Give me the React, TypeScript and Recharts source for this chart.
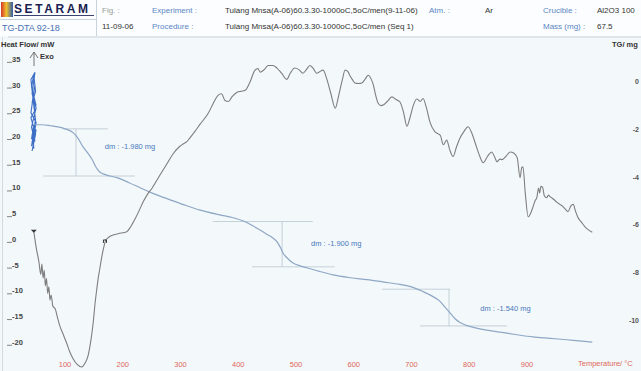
import {
  ComposedChart,
  Line,
  XAxis,
  YAxis,
  ReferenceLine,
  ReferenceDot,
} from "recharts";

const FONT = "'Liberation Sans', Arial, sans-serif";

// temperature ticks (°C)
const TEMP_TICKS = [100, 200, 300, 400, 500, 600, 700, 800, 900];
// heat flow ticks (mW)
const HF_TICKS = [35, 30, 25, 20, 15, 10, 5, 0, -5, -10, -15, -20];
// mass ticks (mg)
const TG_TICKS = [0, -2, -4, -6, -8, -10];

// DTA heat flow curve
const DTA_TEMP = [
  46, 50, 55, 58, 60, 62, 64, 66, 68, 70, 72, 74, 76, 79, 83, 87, 91, 97, 103,
  108, 114, 121, 129, 135, 140, 145, 149, 152, 155, 158, 161, 164, 167, 170,
  178, 192, 207, 214, 221, 228, 235, 243, 251, 258, 265, 276, 287, 298, 305,
  311, 316, 325, 334, 348, 357, 365, 371, 377, 383, 389, 398, 405, 412, 420,
  429, 434, 438, 445, 452, 460, 467, 475, 484, 490, 498, 505, 512, 518, 524,
  530, 536, 541, 547, 553, 560, 568, 574, 580, 585, 590, 593, 598, 602, 608,
  614, 620, 625, 630, 634, 638, 642, 647, 651, 658, 666, 673, 680, 686, 692,
  697, 703, 709, 715, 720, 726, 732, 740, 746, 750, 755, 761, 766, 772, 778,
  784, 791, 798, 805, 811, 818, 824, 832, 839, 844, 848, 853, 857, 864, 871,
  877, 883, 888, 891, 893, 897, 902, 906, 910, 914, 917, 920, 922, 924, 927,
  930, 934, 937, 940, 946, 952, 957, 962, 967, 971, 976, 980, 984, 988, 994,
  1000, 1007, 1013,
];
const DTA_HF = [
  1.5, -1.5, -4.5, -6.8, -4.8, -7.5, -6.0, -9.0, -7.6, -10.5, -9.2, -11.8,
  -10.8, -13.0, -13.5, -15.2, -16.8, -18.5, -20.2, -21.8, -23.2, -24.3, -24.8,
  -24.0, -22.6, -19.5, -16.0, -12.5, -9.7, -7.2, -5.2, -3.2, -1.6, -0.3, 0.6,
  1.1, 1.5, 2.5, 3.9, 5.5, 7.2, 8.8, 10.0, 11.3, 12.6, 14.6, 16.6, 18.0, 18.6,
  19.0, 19.7, 21.0, 22.4, 24.5, 26.5, 28.0, 28.3, 27.0, 26.8, 27.7, 28.6, 28.8,
  29.0, 30.5, 32.9, 33.2, 32.5, 33.0, 33.8, 33.8, 33.3, 32.3, 31.1, 32.3, 33.3,
  33.0, 32.3, 33.0, 33.8, 33.2, 32.3, 32.6, 32.9, 31.3, 28.5, 25.5, 28.0, 30.9,
  32.9, 32.6, 31.9, 31.0, 30.4, 30.3, 30.4, 31.2, 31.9, 31.2, 30.0, 28.0, 26.5,
  26.0, 26.1, 26.8, 27.7, 27.2, 26.7, 24.8, 22.0, 23.5, 26.0, 27.3, 26.8, 27.4,
  25.5, 22.8, 21.0, 20.5, 20.2, 18.4, 19.3, 17.5, 16.1, 18.0, 19.7, 21.0, 21.9,
  20.5, 18.5, 16.2, 14.9, 16.2, 17.0, 16.0, 15.1, 15.6, 15.5, 16.2, 17.0, 16.8,
  15.9, 12.0, 14.0, 14.1, 9.0, 4.4, 5.0, 6.2, 7.5, 8.1, 10.0, 9.0, 10.3, 10.1,
  8.5, 8.1, 8.6, 8.3, 7.8, 7.2, 6.8, 6.4, 5.8, 5.4, 6.5, 6.8, 5.5, 4.3, 3.4,
  2.5, 1.8, 1.4,
];

// TG mass curve
const TG_TEMP = [
  46, 60, 75, 90, 100, 114, 122, 131, 140, 147, 153, 160, 166, 178, 190, 210,
  230, 252, 280, 311, 334, 368, 391, 410, 426, 440, 450, 460, 467, 473, 478,
  486, 495, 507, 519, 540, 564, 595, 623, 652, 680, 700, 720, 735, 749, 758,
  767, 776, 784, 795, 807, 830, 853, 880, 910, 940, 969, 990, 1013,
];
const TG_MASS = [
  -1.8, -1.8, -1.84, -1.9, -1.97, -2.13, -2.35, -2.72, -3.0, -3.26, -3.55,
  -3.78, -3.86, -3.95, -4.02, -4.22, -4.44, -4.68, -4.93, -5.2, -5.38, -5.58,
  -5.7, -5.85, -6.05, -6.25, -6.4, -6.55, -6.7, -6.95, -7.2, -7.42, -7.6,
  -7.72, -7.8, -7.95, -8.1, -8.22, -8.3, -8.4, -8.5, -8.6, -8.8, -8.98, -9.2,
  -9.45, -9.7, -9.95, -10.1, -10.22, -10.3, -10.42, -10.5, -10.6, -10.7,
  -10.76, -10.82, -10.87, -10.92,
];

// noisy balance signal at the start of the run
const TG_NOISE_TEMP = [
  46, 42, 50, 43, 49, 41, 48, 44, 50, 42, 46, 49, 43, 48, 41, 50, 44, 48, 42,
  49, 45, 41, 48, 43, 50, 42, 48, 44, 46, 43, 49, 45, 47,
];
const TG_NOISE_MASS = [
  -1.8, -2.4, -2.0, -2.9, -2.2, -1.5, -1.2, -0.6, -1.0, -0.2, 0.3, -0.4, -0.9,
  -0.1, -1.3, -1.7, -2.6, -2.1, -2.7, -1.6, -0.8, 0.1, 0.4, -0.5, -1.1, -1.9,
  -2.5, -2.0, -2.8, -2.3, -1.6, -2.1, -1.8,
];

// mass-loss steps
const STEP_DM = [-1.98, -1.9, -1.54];
const STEP_TOP = [-1.97, -5.86, -8.7];
const STEP_TEMP = [119, 476, 765];
const STEP_TOP_FROM = [96, 356, 649];
const STEP_TOP_TO = [174, 529, 767];
const STEP_BOT_FROM = [62, 424, 715];
const STEP_BOT_TO = [221, 567, 865];
const STEP_LABEL_TEMP = [169, 526, 819];
const STEP_LABEL_MASS = [-2.68, -6.78, -9.5];

const dta = DTA_TEMP.map((t, i) => ({ t, hf: DTA_HF[i] }));
const tg = TG_TEMP.map((t, i) => ({ t, m: TG_MASS[i] }));
const tgNoise = TG_NOISE_TEMP.map((t, i) => ({ t, m: TG_NOISE_MASS[i] }));

const fmtDm = (v: number) => `dm : ${v.toFixed(3)} mg`;

const renderTempTick = ({ x, payload }: any) => (
  <text x={x} y={367} textAnchor="middle" fontSize={7.5} fill="#e0685c" fontFamily={FONT}>
    {payload.value}
  </text>
);

const renderHfTick = ({ y, payload }: any) => (
  <g>
    <line x1={7} x2={12} y1={y + 3} y2={y + 3} stroke="#666" strokeWidth={0.8} />
    <text x={12} y={y + 2.5} fontSize={7.5} fontWeight="bold" fill="#444" fontFamily={FONT}>
      {payload.value}
    </text>
  </g>
);

// right-hand labels tucked against the frame edge
const renderTgTick = ({ y, payload }: any) => (
  <text x={639} y={y + 2.5} textAnchor="end" fontSize={7} fontWeight="bold" fill="#555" fontFamily={FONT}>
    {payload.value}
  </text>
);

const DtaDot = (props: any) => {
  const { cx, cy, index } = props;
  if (index === 0)
    return <path key={index} d={`M${cx - 3},${cy - 2}h6l-3,3z`} fill="#333" />;
  if (index === 33)
    return (
      <path key={index} d={`M${cx - 2},${cy + 2}v-3h3v3`} fill="none" stroke="#333" strokeWidth={1} />
    );
  return <g key={index} />;
};

const Header = () => {
  const t = (x: number, y: number, s: string, color = "#333", extra: any = {}) => (
    <span
      style={{
        position: "absolute",
        left: x,
        top: y,
        fontSize: 8,
        color,
        whiteSpace: "nowrap",
        lineHeight: "10px",
        ...extra,
      }}
    >
      {s}
    </span>
  );
  const blue = "#5b86c5";
  return (
    <div
      style={{
        position: "absolute",
        left: 0,
        top: 0,
        width: 641,
        height: 36,
        background: "#fbfdfe",
        fontFamily: FONT,
      }}
    >
      <div
        style={{
          position: "absolute",
          left: 1,
          top: 2,
          width: 12,
          height: 15,
          background: "linear-gradient(90deg, #d4372c 0%, #f1bf2e 45%, #2d5caa 100%)",
        }}
      />
      {t(14, 3, "SETARAM", "#1a2250", { fontSize: 12, fontWeight: 900, letterSpacing: 2.6, lineHeight: "12px" })}
      <div style={{ position: "absolute", left: 14, top: 15, width: 80, height: 1, background: "#3a4470" }} />
      <div style={{ position: "absolute", left: 0, top: 19, width: 96, height: 1, background: "#c9d3dc" }} />
      {t(2, 22, "TG-DTA 92-18", "#4a72b5", { fontSize: 9, lineHeight: "12px" })}
      <div style={{ position: "absolute", left: 96, top: 0, width: 1, height: 36, background: "#c9d3dc" }} />
      {t(102, 6, "Fig. :", "#9a9a9a")}
      {t(102, 22, "11-09-06")}
      {t(152, 6, "Experiment :", blue)}
      {t(152, 22, "Procedure :", blue)}
      {t(225, 6, "Tulang Mnsa(A-06)60.3.30-1000oC,5oC/men(9-11-06)")}
      {t(429, 6, "Atm. :", blue)}
      {t(225, 22, "Tulang Mnsa(A-06)60.3.30-1000oC,5oC/men (Seq  1)")}
      {t(485, 6, "Ar")}
      {t(543, 6, "Crucible :", blue)}
      {t(597, 6, "Al2O3 100")}
      {t(543, 22, "Mass (mg) :", blue)}
      {t(597, 22, "67.5")}
    </div>
  );
};

export default function App() {
  return (
    <div
      style={{
        position: "absolute",
        left: 0,
        top: 0,
        width: 641,
        height: 371,
        overflow: "hidden",
        background: "#f3f8fa",
        fontFamily: FONT,
      }}
    >
      <Header />
      {/* frame edge on the left */}
      <div style={{ position: "absolute", left: 2, top: 37, width: 1, height: 334, background: "#d3dbe0" }} />
      <span style={{ position: "absolute", left: 1, top: 40, fontSize: 7.5, fontWeight: "bold", color: "#333" }}>
        Heat Flow/ mW
      </span>
      <span style={{ position: "absolute", left: 612, top: 40, fontSize: 7.5, fontWeight: "bold", color: "#333", whiteSpace: "nowrap" }}>
        TG/ mg
      </span>
      <span style={{ position: "absolute", left: 40, top: 52, fontSize: 7.5, fontWeight: "bold", color: "#333" }}>
        Exo
      </span>
      <svg style={{ position: "absolute", left: 28, top: 50 }} width={12} height={18}>
        <path d="M6,16V2M2,8L6,2L10,8" fill="none" stroke="#666" strokeWidth={0.9} />
      </svg>
      <span style={{ position: "absolute", left: 578, top: 359, fontSize: 7.5, color: "#e0685c", whiteSpace: "nowrap" }}>
        Temperature/ °C
      </span>
      <div style={{ position: "absolute", left: 0, top: 0 }}>
        <ComposedChart width={700} height={371} margin={{ top: 36, right: 58, bottom: 0, left: 7 }}>
          <XAxis
            xAxisId="t"
            type="number"
            dataKey="t"
            domain={[1.3, 1097.4]}
            allowDataOverflow
            ticks={TEMP_TICKS}
            height={1}
            axisLine={false}
            tickLine={false}
            tick={renderTempTick}
          />
          <XAxis
            xAxisId="top"
            orientation="top"
            type="number"
            dataKey="t"
            domain={[1.3, 1097.4]}
            allowDataOverflow
            ticks={TEMP_TICKS}
            height={1}
            axisLine={{ stroke: "#c9d3dc" }}
            tickLine={{ stroke: "#b8c2cb" }}
            tickSize={4}
            tick={false}
          />
          <YAxis
            yAxisId="hf"
            type="number"
            domain={[-25.39, 39.34]}
            allowDataOverflow
            ticks={HF_TICKS}
            width={1}
            axisLine={false}
            tickLine={false}
            tick={renderHfTick}
          />
          <YAxis
            yAxisId="tg"
            orientation="right"
            type="number"
            domain={[-12.09, 1.883]}
            allowDataOverflow
            ticks={TG_TICKS}
            width={1}
            axisLine={false}
            tickLine={false}
            tick={renderTgTick}
          />
          {STEP_DM.map((dm, i) => {
            const bot = STEP_TOP[i] + dm;
            const stroke = "#b9c6d0";
            return [
              <ReferenceLine
                key={`top${i}`}
                xAxisId="t"
                yAxisId="tg"
                segment={[{ x: STEP_TOP_FROM[i], y: STEP_TOP[i] }, { x: STEP_TOP_TO[i], y: STEP_TOP[i] }]}
                stroke={stroke}
                strokeWidth={0.8}
              />,
              <ReferenceLine
                key={`bot${i}`}
                xAxisId="t"
                yAxisId="tg"
                segment={[{ x: STEP_BOT_FROM[i], y: bot }, { x: STEP_BOT_TO[i], y: bot }]}
                stroke={stroke}
                strokeWidth={0.8}
              />,
              <ReferenceLine
                key={`v${i}`}
                xAxisId="t"
                yAxisId="tg"
                segment={[{ x: STEP_TEMP[i], y: STEP_TOP[i] }, { x: STEP_TEMP[i], y: bot }]}
                stroke={stroke}
                strokeWidth={0.8}
              />,
              <ReferenceDot
                key={`lab${i}`}
                xAxisId="t"
                yAxisId="tg"
                x={STEP_LABEL_TEMP[i]}
                y={STEP_LABEL_MASS[i]}
                r={0}
                fill="none"
                stroke="none"
                label={({ viewBox }: any) => (
                  <text x={viewBox.x} y={viewBox.y + 3} fontSize={7.5} fill="#4a78bd" fontFamily={FONT}>
                    {fmtDm(dm)}
                  </text>
                )}
              />,
            ];
          })}
          <Line
            xAxisId="t"
            yAxisId="tg"
            data={tgNoise}
            dataKey="m"
            type="linear"
            stroke="#3d6fc6"
            strokeWidth={1.1}
            dot={false}
            isAnimationActive={false}
          />
          <Line
            xAxisId="t"
            yAxisId="tg"
            data={tg}
            dataKey="m"
            type="monotone"
            stroke="#8ea7c6"
            strokeWidth={1.2}
            dot={false}
            isAnimationActive={false}
          />
          <Line
            xAxisId="t"
            yAxisId="hf"
            data={dta}
            dataKey="hf"
            type="monotone"
            stroke="#7e7e7e"
            strokeWidth={1.1}
            dot={<DtaDot />}
            isAnimationActive={false}
          />
        </ComposedChart>
      </div>
    </div>
  );
}
